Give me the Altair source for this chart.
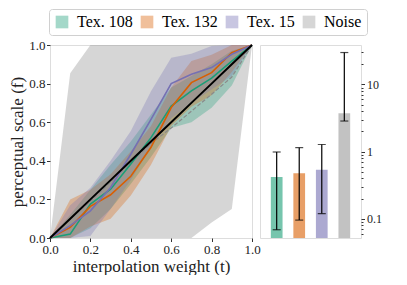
import altair as alt
import pandas as pd

# ---------------- data ----------------
T = [0.0, 0.1, 0.2, 0.3, 0.4, 0.5, 0.6, 0.7, 0.8, 0.9, 1.0]
SERIES = ["Tex. 108", "Tex. 132", "Tex. 15"]
CATS = SERIES + ["Noise"]
COLORS = ["#1b9e77", "#d95f02", "#7570b3", "#999999"]

MEAN = {
    "Tex. 108": [0.0, 0.02, 0.176, 0.253, 0.383, 0.52, 0.684, 0.762, 0.828, 0.917, 1.0],
    "Tex. 132": [0.0, 0.055, 0.164, 0.224, 0.32, 0.47, 0.676, 0.805, 0.857, 0.96, 1.0],
    "Tex. 15": [0.0, 0.064, 0.141, 0.262, 0.434, 0.615, 0.80, 0.848, 0.883, 0.952, 1.0],
}
LO = {
    "Tex. 108": [0.0, 0.0, 0.05, 0.15, 0.28, 0.42, 0.57, 0.60, 0.675, 0.79, 1.0],
    "Tex. 132": [0.0, 0.0, 0.06, 0.10, 0.22, 0.38, 0.58, 0.68, 0.74, 0.86, 1.0],
    "Tex. 15": [0.0, 0.0, 0.01, 0.15, 0.30, 0.47, 0.62, 0.70, 0.77, 0.84, 1.0],
}
HI = {
    "Tex. 108": [0.0, 0.12, 0.25, 0.38, 0.50, 0.64, 0.78, 0.84, 0.90, 0.97, 1.0],
    "Tex. 132": [0.0, 0.20, 0.25, 0.33, 0.45, 0.58, 0.78, 0.917, 0.95, 1.0, 1.0],
    "Tex. 15": [0.0, 0.17, 0.26, 0.40, 0.555, 0.76, 0.934, 0.955, 0.995, 1.0, 1.0],
}
NOISE_MEAN = [0.0, 0.1, 0.19, 0.29, 0.39, 0.49, 0.57, 0.657, 0.745, 0.834, 1.0]
NOISE_LO = [0.0, 0.0, 0.0, 0.0, 0.0, 0.0, 0.0, 0.0, 0.08, 0.15, 1.0]
NOISE_HI = [0.0, 0.853, 1.0, 1.0, 1.0, 1.0, 1.0, 1.0, 1.0, 1.0, 1.0]

BAR_VALUE = [0.42, 0.48, 0.54, 3.75]
BAR_LO = [0.069, 0.096, 0.12, 2.86]
BAR_HI = [0.99, 1.15, 1.28, 29.9]

X_TICKS = [0.0, 0.2, 0.4, 0.6, 0.8, 1.0]
LOG_TICKS = [0.06, 0.07, 0.08, 0.09, 0.1, 0.2, 0.3, 0.4, 0.5, 0.6, 0.7, 0.8, 0.9,
             1, 2, 3, 4, 5, 6, 7, 8, 9, 10, 20, 30]
LOG_LABELS = ["0.1", "1", "10"]
LOG_DOMAIN = [0.052, 38.7]

# ---------------- frames ----------------
rows = []
for s in SERIES:
    for i, t in enumerate(T):
        rows.append({"series": s, "t": t, "mean": MEAN[s][i], "lo": LO[s][i], "hi": HI[s][i]})
tex_df = pd.DataFrame(rows)
noise_df = pd.DataFrame({"series": "Noise", "t": T, "mean": NOISE_MEAN,
                         "lo": NOISE_LO, "hi": NOISE_HI})
bar_df = pd.DataFrame({"series": CATS, "value": BAR_VALUE, "lo": BAR_LO, "hi": BAR_HI})

FONT = "Liberation Serif"
color_scale = alt.Scale(domain=CATS, range=COLORS)

x_axis = alt.Axis(values=X_TICKS, format=".1f", title="interpolation weight (t)",
                  grid=False, domain=False, tickSize=3.5, tickColor="#333",
                  labelFontSize=13, titleFontSize=17, titleFontWeight="normal",
                  labelPadding=2, titlePadding=2, labelOverlap=False, labelFlush=False)
y_axis = alt.Axis(values=X_TICKS, format=".1f", title="perceptual scale (f)",
                  grid=False, domain=False, tickSize=3.5, tickColor="#333",
                  labelFontSize=13, titleFontSize=17, titleFontWeight="normal",
                  labelPadding=1.5, titlePadding=2, labelOverlap=False, labelFlush=False)
x_scale = alt.Scale(domain=[0, 1], nice=False)
y_scale = alt.Scale(domain=[0, 1], nice=False)


def X(field):
    return alt.X(field, scale=x_scale, axis=x_axis)


def Y(field):
    return alt.Y(field, scale=y_scale, axis=y_axis)


legend = alt.Legend(title=None, orient="none", direction="horizontal",
                    legendX=-1, legendY=-36, symbolType="square", symbolSize=160,
                    symbolOpacity=0.4, symbolStrokeWidth=0, labelFontSize=16,
                    labelFont=FONT, columnPadding=6, labelOffset=7,
                    strokeColor="#d0d0d0", cornerRadius=3, padding=5,
                    fillColor="white")

noise_area = alt.Chart(noise_df).mark_area(opacity=0.4).encode(
    x=X("t:Q"), y=Y("lo:Q"), y2="hi:Q",
    color=alt.Color("series:N", scale=color_scale, legend=legend),
)
tex_area = alt.Chart(tex_df).mark_area(opacity=0.3).encode(
    x=X("t:Q"), y=Y("lo:Q"), y2="hi:Q",
    color=alt.Color("series:N", scale=color_scale, legend=legend),
)
noise_line = alt.Chart(noise_df).mark_line(color="#8a8a8a", strokeDash=[4, 2], strokeWidth=1.2).encode(
    x=X("t:Q"), y=Y("mean:Q"))
tex_line = alt.Chart(tex_df).mark_line(strokeWidth=1.6).encode(
    x=X("t:Q"), y=Y("mean:Q"),
    color=alt.Color("series:N", scale=color_scale, legend=None),
    detail="series:N",
)
diag = alt.Chart(noise_df).mark_line(color="black", strokeWidth=2).encode(
    x=X("t:Q"), y=Y("t:Q"))

left = alt.layer(noise_area, tex_area, noise_line, tex_line, diag).properties(width=202, height=193)

is_major = "datum.value == 0.1 || datum.value == 1 || datum.value == 10"
label_expr = ("datum.value == 0.1 ? '%s' : datum.value == 1 ? '%s' : datum.value == 10 ? '%s' : ''"
              % tuple(LOG_LABELS))

bx = alt.X("series:N", sort=CATS, axis=None,
           scale=alt.Scale(paddingInner=0.48, paddingOuter=0.48))
by_scale = alt.Scale(type="log", domain=LOG_DOMAIN, nice=False)
bars = alt.Chart(bar_df).mark_bar(opacity=0.6).encode(
    x=bx,
    y=alt.Y("value:Q", scale=by_scale,
            axis=alt.Axis(orient="right", values=LOG_TICKS, labelExpr=label_expr,
                          labelOverlap=False, labelFlush=False, grid=False, domain=False,
                          title=None, tickColor="#333", labelFontSize=12, labelPadding=2,
                          tickSize={"condition": {"test": is_major, "value": 3.5}, "value": 2})),
    y2=alt.datum(LOG_DOMAIN[0]),
    color=alt.Color("series:N", scale=color_scale, legend=None),
)
err = alt.Chart(bar_df).mark_rule(color="black", strokeWidth=1.2).encode(
    x=alt.X("series:N", sort=CATS), y="lo:Q", y2="hi:Q")
cap_lo = alt.Chart(bar_df).mark_tick(color="black", thickness=1.2, size=8).encode(
    x=alt.X("series:N", sort=CATS), y="lo:Q")
cap_hi = alt.Chart(bar_df).mark_tick(color="black", thickness=1.2, size=8).encode(
    x=alt.X("series:N", sort=CATS), y="hi:Q")
right = alt.layer(bars, err, cap_lo, cap_hi).properties(width=101, height=193)

chart = alt.hconcat(left, right, spacing=8, bounds="flush").resolve_scale(color="shared").properties(
    padding={"left": 0, "top": 0, "right": 0, "bottom": 0}
).configure_view(stroke="#555", strokeWidth=1).configure(
    font=FONT
).configure_axis(labelFont=FONT, titleFont=FONT, labelColor="#222", titleColor="#222")

chart.save("out.html", embed_options={"renderer": "svg", "actions": False})
